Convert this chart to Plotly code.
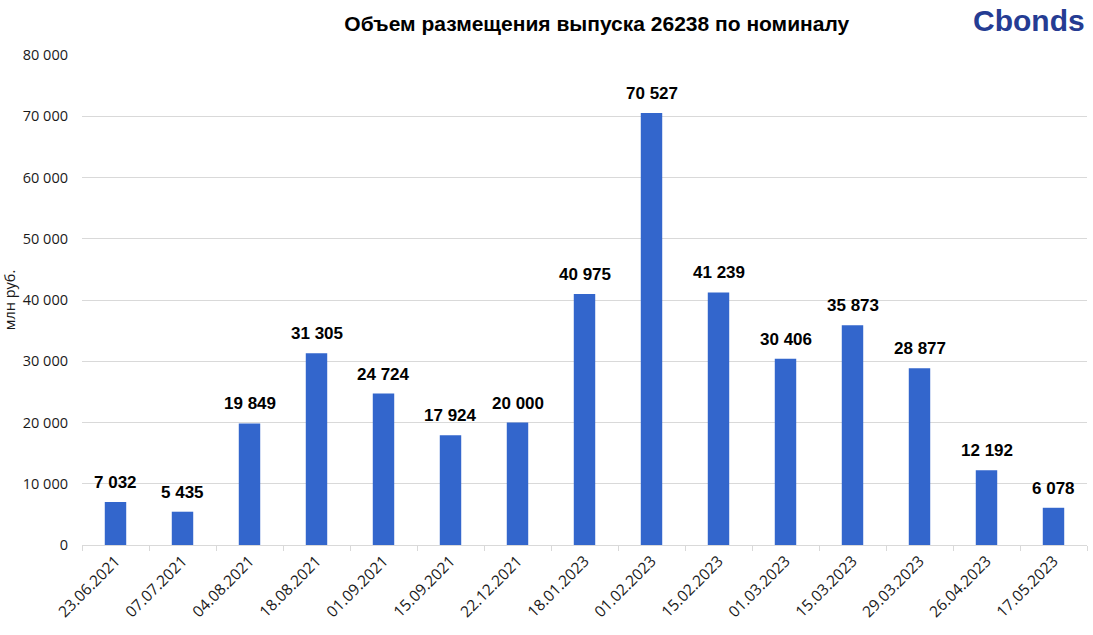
import plotly.graph_objects as go

dates = ["23.06.2021", "07.07.2021", "04.08.2021", "18.08.2021", "01.09.2021",
         "15.09.2021", "22.12.2021", "18.01.2023", "01.02.2023", "15.02.2023",
         "01.03.2023", "15.03.2023", "29.03.2023", "26.04.2023", "17.05.2023"]
volumes = [7032, 5435, 19849, 31305, 24724, 17924, 20000, 40975, 70527, 41239,
           30406, 35873, 28877, 12192, 6078]
y_ticks = [0, 10000, 20000, 30000, 40000, 50000, 60000, 70000, 80000]

def fmt(v):
    return f"{v:,}".replace(",", " ")

fig = go.Figure()
fig.add_trace(go.Bar(
    x=dates, y=volumes,
    marker=dict(color="#3366CC", line=dict(width=0)),
    hoverinfo="x+y",
))
for d, v in zip(dates, volumes):
    fig.add_annotation(
        x=d, y=v, xref="x", yref="y", text=f"<b>{fmt(v)}</b>",
        showarrow=False, yanchor="bottom", yshift=8,
        font=dict(family="Liberation Sans, Arial", size=17, color="#000000"),
    )

fig.update_layout(
    width=1093, height=635,
    margin=dict(l=82, r=6, t=55, b=90),
    paper_bgcolor="white", plot_bgcolor="white",
    bargap=0.68,
    showlegend=False,
    title=dict(text="<b>Объем размещения выпуска 26238 по номиналу</b>",
               x=0.546, xanchor="center", y=0.963, yanchor="middle",
               font=dict(family="Liberation Sans, Arial", size=21, color="#000000")),
    xaxis=dict(
        type="category",
        tickangle=-45,
        tickfont=dict(family="Open Sans", size=15.5, color="#1a1a1a"),
        ticks="outside", tickson="boundaries", ticklen=5, tickcolor="#D9D9D9",
        showline=True, linecolor="#D9D9D9", linewidth=1,
        showgrid=False,
    ),
    yaxis=dict(
        range=[0, 80000],
        tickvals=y_ticks,
        ticktext=[fmt(v) for v in y_ticks],
        tickfont=dict(family="Open Sans", size=14.5, color="#1a1a1a"),
        ticklabelstandoff=13,
        showgrid=True, gridcolor="#D9D9D9", gridwidth=1,
        zeroline=False,
        ticks="", ticklen=0,
        title=dict(text="млн руб.", standoff=4,
                   font=dict(family="Open Sans", size=14.5, color="#1a1a1a")),
    ),
)
fig.add_annotation(
    text="<b>Cbonds</b>", xref="paper", yref="paper",
    x=1.0, y=1.07, xanchor="right", yanchor="middle", showarrow=False,
    font=dict(family="Liberation Sans, Arial", size=30, color="#253C93"),
)

fig.write_html("out.html")
